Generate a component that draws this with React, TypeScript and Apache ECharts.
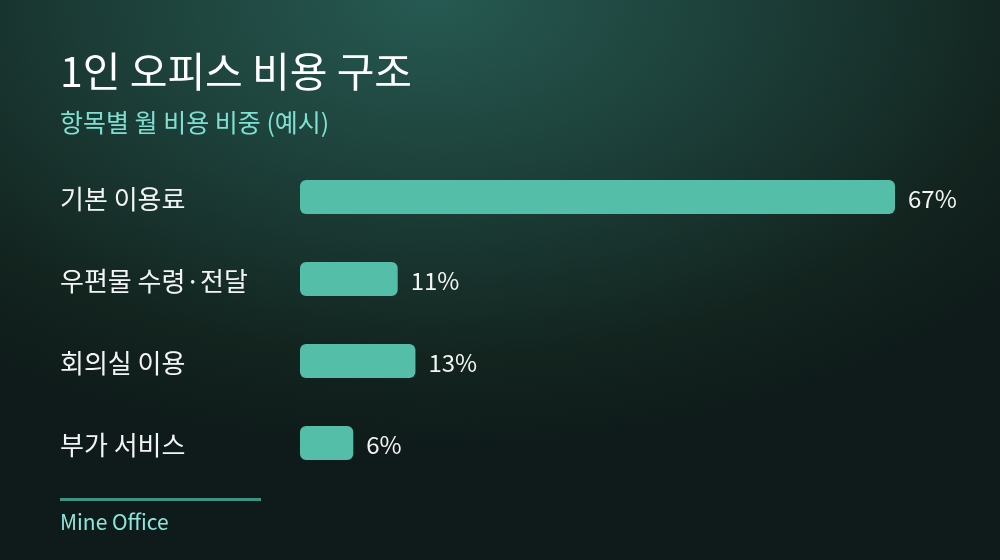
import { useEffect, useRef } from 'react';
import * as echarts from 'echarts';

const categories = ['기본 이용료', '우편물 수령·전달', '회의실 이용', '부가 서비스'];
const shares = [67, 11, 13, 6];

const titleText = '1인 오피스 비용 구조';
const subtitleText = '항목별 월 비용 비중 (예시)';
const footerText = 'Mine Office';

const FONT = '"Noto Sans CJK KR", "Noto Sans", sans-serif';

export default function App() {
  const chartRef = useRef<HTMLDivElement>(null);

  useEffect(() => {
    if (!chartRef.current) return;
    const chart = echarts.init(chartRef.current, null, { renderer: 'svg' });

    chart.setOption({
      animation: false,
      backgroundColor: 'transparent',
      textStyle: { fontFamily: FONT },
      grid: { left: 300, top: 156, width: 595, height: 328, containLabel: false },
      xAxis: {
        type: 'value',
        min: 0,
        max: 67,
        show: false,
      },
      yAxis: {
        type: 'category',
        data: categories,
        inverse: true,
        axisLine: { show: false },
        axisTick: { show: false },
        splitLine: { show: false },
        axisLabel: {
          align: 'left',
          margin: 240,
          color: '#f2f5f4',
          fontSize: 26,
          fontFamily: FONT,
          padding: [0, 0, 5, 0],
        },
      },
      series: [
        {
          type: 'bar',
          data: shares,
          barWidth: 34,
          itemStyle: { color: '#54bea8', borderRadius: 6 },
          label: {
            show: true,
            position: 'right',
            distance: 13,
            formatter: '{c}%',
            color: '#f2f5f4',
            fontSize: 24,
            fontFamily: FONT,
          },
        },
      ],
      graphic: [
        {
          type: 'text',
          x: 60,
          y: 69,
          style: {
            text: titleText,
            fill: '#ffffff',
            fontSize: 41,
            fontWeight: 'normal',
            fontFamily: FONT,
            verticalAlign: 'middle',
          },
        },
        {
          type: 'text',
          x: 60,
          y: 121,
          style: {
            text: subtitleText,
            fill: '#7fe0d2',
            fontSize: 25,
            fontFamily: FONT,
            verticalAlign: 'middle',
          },
        },
        {
          type: 'rect',
          x: 60,
          y: 498,
          shape: { width: 201, height: 3 },
          style: { fill: '#3c9383' },
        },
        {
          type: 'text',
          x: 60,
          y: 521,
          style: {
            text: footerText,
            fill: '#8de6da',
            fontSize: 21,
            fontFamily: FONT,
            verticalAlign: 'middle',
          },
        },
      ],
    });

    return () => {
      chart.dispose();
    };
  }, []);

  return (
    <div
      ref={chartRef}
      style={{
        position: 'fixed',
        left: 0,
        top: 0,
        width: '1000px',
        height: '560px',
        background:
          'radial-gradient(ellipse 75% 80% at 43% 0%, #265a52 0%, #1c3d37 45%, #13241f 80%, #0e1b1a 100%)',
      }}
    />
  );
}
